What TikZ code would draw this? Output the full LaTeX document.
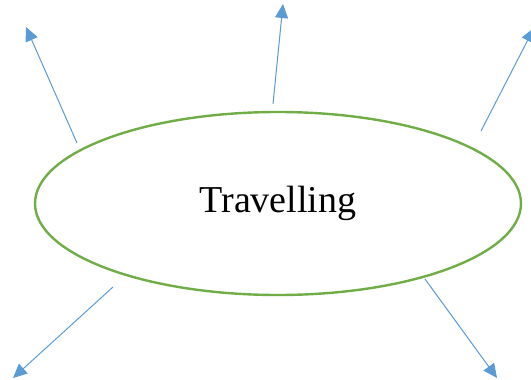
\documentclass[tikz,border=0pt]{standalone}
\usepackage{fontspec}
\setmainfont{Liberation Serif}
\usetikzlibrary{arrows.meta,shapes.geometric}
\definecolor{ringgreen}{RGB}{112,173,71}
\definecolor{rayblue}{RGB}{91,155,213}
\tikzset{
  topic/.style={draw=ringgreen, line width=2.4pt, ellipse, minimum width=486pt, minimum height=183pt, inner sep=0pt, font=\fontsize{38}{44}\selectfont},
  ray/.style={draw=rayblue, line width=1pt, -{Triangle[length=14pt,width=13pt]}}
}
\begin{document}
\begin{tikzpicture}[x=1pt,y=-1pt]
\useasboundingbox (0,0) rectangle (531,380);
\node[topic] (hub) at (278,203.5) {Travelling};
% ray start points, just outside the ring
\coordinate (s1) at (77,143);
\coordinate (s2) at (273,104);
\coordinate (s3) at (481,131);
\coordinate (s4) at (113,287);
\coordinate (s5) at (425,279);
% ray tips
\coordinate (t1) at (26,27);
\coordinate (t2) at (283,4);
\coordinate (t3) at (534,28);
\coordinate (t4) at (13,378);
\coordinate (t5) at (497,378);
\draw[ray] (s1) -- (t1);
\draw[ray] (s2) -- (t2);
\draw[ray] (s3) -- (t3);
\draw[ray] (s4) -- (t4);
\draw[ray] (s5) -- (t5);
\end{tikzpicture}
\end{document}
